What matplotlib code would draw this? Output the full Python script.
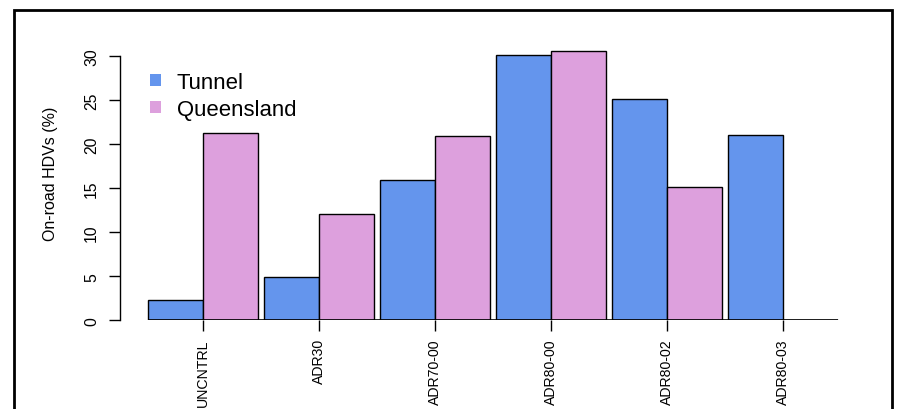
import numpy as np
import matplotlib
matplotlib.use("Agg")
import matplotlib.pyplot as plt
from matplotlib.patches import Patch, Rectangle

plt.rcParams['font.family'] = ['Liberation Sans', 'DejaVu Sans']

standards = ["UNCNTRL", "ADR30", "ADR70-00", "ADR80-00", "ADR80-02", "ADR80-03"]
tunnel = [2.3, 4.9, 16.0, 30.2, 25.2, 21.1]
queensland = [21.3, 12.1, 20.9, 30.6, 15.1, 0.0]
series = ["Tunnel", "Queensland"]
colours = ["#6495ED", "#DDA0DD"]

W, H = 898, 410
fig = plt.figure(figsize=(W / 100, H / 100), dpi=100)

# plot region in pixels: y=0 at 321, 8.8 px per unit; x=0 at 142.2, 55.24 px per unit
x0px, xscale = 142.2, 55.24
y0px, yscale = 321.3, 8.8
left_px, right_px = 120, 870
top_px = 30
ax = fig.add_axes([left_px / W, 1 - y0px / H, (right_px - left_px) / W, (y0px - top_px) / H])
ax.set_xlim((left_px - x0px) / xscale, (right_px - x0px) / xscale)
ax.set_ylim(0, (y0px - top_px) / yscale)

# grouped bars, bar width 1, 0.1 gap between groups
space = 0.1
centres = np.array([space + 1 + i * (2 + space) for i in range(len(standards))])
ax.bar(centres - 0.5, tunnel, width=1, color=colours[0], edgecolor="black", linewidth=1.0)
ax.bar(centres + 0.5, queensland, width=1, color=colours[1], edgecolor="black", linewidth=1.0)
ax.plot([centres[0] - 1, centres[-1] + 1], [0, 0], color="black", lw=1.2, solid_capstyle="butt")

for s in ["top", "right", "bottom"]:
    ax.spines[s].set_visible(False)
ax.spines["left"].set_bounds(0, 30)
ax.spines["left"].set_linewidth(1.0)

ax.set_yticks(np.arange(0, 31, 5))
ax.set_yticklabels([str(v) for v in range(0, 31, 5)], rotation=90, va="center", fontsize=11.3)
ax.tick_params(axis="y", length=8, width=1.0, pad=7)

ax.set_xticks(centres)
ax.set_xticklabels(standards, rotation=90, fontsize=10.2)
ax.tick_params(axis="x", length=8, width=1.0, pad=5)

fig.text(51 / W, 1 - 174 / H, "On-road HDVs (%)", rotation=90, ha="center", va="center", fontsize=11.5)

handles = [Patch(facecolor=c, edgecolor="none") for c in colours]
ax.legend(handles, series, loc="upper left", frameon=False, fontsize=15.9,
          bbox_to_anchor=(150 / W, 1 - 73 / H), bbox_transform=fig.transFigure,
          handlelength=0.5, handleheight=0.5, handletextpad=0.7,
          labelspacing=0.26, borderaxespad=0, borderpad=0)

# outer frame around the plot
fig.patches.append(Rectangle((13.5 / W, -0.1), (892 - 13.5) / W, 1.1 - 10.5 / H,
                             transform=fig.transFigure, fill=False,
                             edgecolor="black", linewidth=2.0))

fig.savefig("out.png", dpi=100)
